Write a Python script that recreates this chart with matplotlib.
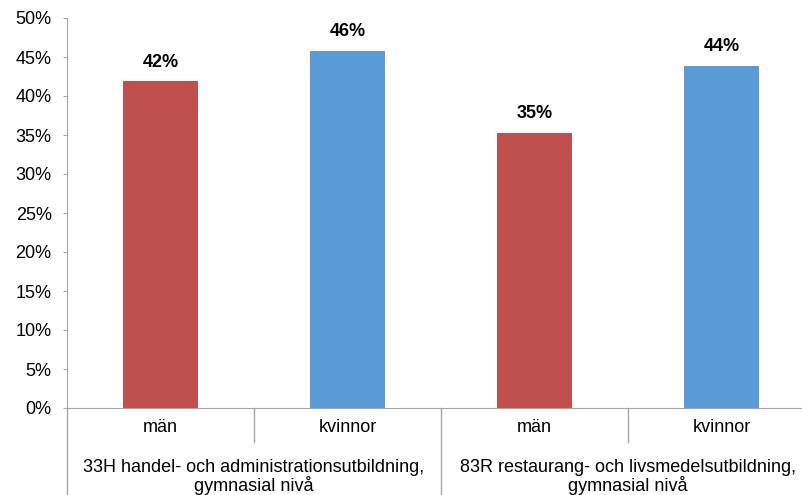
import matplotlib
matplotlib.use('Agg')
import matplotlib.pyplot as plt
from matplotlib.ticker import FuncFormatter

# Data
kon = ['män', 'kvinnor', 'män', 'kvinnor']
grupper = ['33H handel- och administrationsutbildning,\ngymnasial nivå',
           '83R restaurang- och livsmedelsutbildning,\ngymnasial nivå']
andel = [41.9, 45.8, 35.3, 43.9]
farger = ['#C0504D', '#5B9BD5', '#C0504D', '#5B9BD5']

plt.rcParams['font.family'] = ['Liberation Sans', 'DejaVu Sans']
GRID = '#A6A6A6'
FS = 13

fig = plt.figure(figsize=(8.03, 4.95), dpi=100)
# axes goes a bit past the right edge, like in the original
ax = fig.add_axes([67 / 803, 1 - 408 / 495, 748 / 803, 390 / 495])

x = range(len(andel))
bars = ax.bar(x, andel, width=0.40, color=farger)
for b, v in zip(bars, andel):
    ax.text(b.get_x() + b.get_width() / 2, v + 2.45, f'{v:.0f}%',
            ha='center', va='center', fontsize=FS, fontweight='bold')

ax.set_xlim(-0.5, len(andel) - 0.5)
ax.set_ylim(0, 50)
ax.set_yticks(range(0, 51, 5))
ax.yaxis.set_major_formatter(FuncFormatter(lambda v, p: f'{v:.0f}%'))
ax.tick_params(axis='y', length=3, color=GRID, labelsize=FS, pad=8)
ax.set_xticks([])

for s in ['top', 'right']:
    ax.spines[s].set_visible(False)
ax.spines['left'].set_color(GRID)
ax.spines['bottom'].set_color(GRID)

# multi-level category axis
tr = ax.get_xaxis_transform()
for i, lab in enumerate(kon):
    ax.text(i, -0.05, lab, transform=tr, ha='center', va='center', fontsize=FS)
for g, lab in enumerate(grupper):
    ax.text(2 * g + 0.5, -0.178, lab, transform=tr, ha='center', va='center',
            fontsize=FS, linespacing=1.0)

for xb in [-0.5, 0.5, 1.5, 2.5, 3.5]:
    lang = (xb + 0.5) % 2 == 0
    ax.plot([xb, xb], [0, -0.23 if lang else -0.087], transform=tr,
            color=GRID, lw=1, clip_on=False)

fig.savefig('out.png', dpi=100)
